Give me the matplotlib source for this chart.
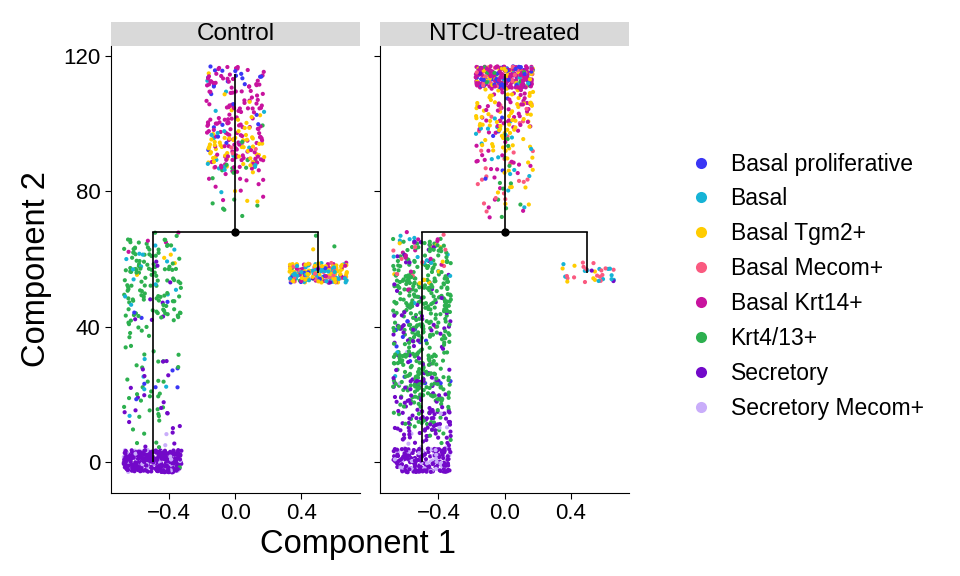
"""Pseudotime trajectory of basal / secretory cells, Control vs NTCU-treated"""
import matplotlib
matplotlib.use('Agg')
import matplotlib.pyplot as plt
from matplotlib.lines import Line2D
from matplotlib.patches import Rectangle
import numpy as np

plt.rcParams['font.family'] = ['Liberation Sans', 'DejaVu Sans']

# cell types and colours
cell_types = ['Basal proliferative', 'Basal', 'Basal Tgm2+', 'Basal Mecom+',
              'Basal Krt14+', 'Krt4/13+', 'Secretory', 'Secretory Mecom+']
colours = ['#3A36F5', '#16B3D6', '#FFCC00', '#FA5A80',
           '#C8139E', '#2DB04F', '#7209C9', '#C9ADFA']

panels = ['Control', 'NTCU-treated']

# tree branches: component 1 position, top and bottom of each branch (component 2)
branch_names = ['top', 'left', 'right']
branch_x = [0.0, -0.5, 0.5]
branch_top = [114.8, 68.0, 68.0]
branch_bottom = [68.0, 0.0, 56.0]
root_x, root_y = 0.0, 68.0

# cells: (branch, cell type, count, y from, y to)
control_cells = [
    ('top', 'Basal proliferative', 14, 110, 117), ('top', 'Basal proliferative', 6, 97, 110),
    ('top', 'Basal proliferative', 3, 88, 97),
    ('top', 'Basal', 4, 103, 117), ('top', 'Basal', 12, 87, 99), ('top', 'Basal', 3, 76, 87),
    ('top', 'Basal Tgm2+', 4, 103, 117), ('top', 'Basal Tgm2+', 6, 98, 103),
    ('top', 'Basal Tgm2+', 45, 87, 98), ('top', 'Basal Tgm2+', 4, 76, 87),
    ('top', 'Basal Mecom+', 5, 85, 100),
    ('top', 'Basal Krt14+', 40, 108, 117), ('top', 'Basal Krt14+', 55, 97, 108),
    ('top', 'Basal Krt14+', 50, 87, 97), ('top', 'Basal Krt14+', 14, 77, 87),
    ('top', 'Krt4/13+', 4, 88, 100), ('top', 'Krt4/13+', 12, 72, 88),
    ('left', 'Krt4/13+', 115, 42, 68), ('left', 'Krt4/13+', 45, 4, 42),
    ('left', 'Krt4/13+', 4, -3, 3),
    ('left', 'Basal', 14, 45, 67), ('left', 'Basal', 5, 10, 40),
    ('left', 'Basal Tgm2+', 4, 55, 66),
    ('left', 'Basal Krt14+', 4, 62, 69),
    ('left', 'Basal proliferative', 3, 40, 50), ('left', 'Basal proliferative', 6, 5, 30),
    ('left', 'Secretory', 8, 40, 65), ('left', 'Secretory', 20, 4, 30),
    ('left', 'Secretory', 280, -3, 3.6),
    ('left', 'Secretory Mecom+', 40, -3, 3.6), ('left', 'Secretory Mecom+', 2, 4, 10),
    ('right', 'Basal Tgm2+', 70, 53, 59), ('right', 'Basal Tgm2+', 1, 61, 63),
    ('right', 'Basal', 55, 53, 59),
    ('right', 'Basal Krt14+', 25, 53, 59),
    ('right', 'Basal Mecom+', 25, 53, 59),
    ('right', 'Basal proliferative', 10, 53, 59),
    ('right', 'Secretory', 5, 53, 59),
    ('right', 'Krt4/13+', 2, 53, 59), ('right', 'Krt4/13+', 2, 63, 67),
]

ntcu_cells = [
    ('top', 'Basal Krt14+', 150, 110.5, 117), ('top', 'Basal Krt14+', 45, 97, 110.5),
    ('top', 'Basal Krt14+', 15, 85, 97), ('top', 'Basal Krt14+', 6, 72, 85),
    ('top', 'Basal proliferative', 50, 110.5, 117), ('top', 'Basal proliferative', 4, 95, 110),
    ('top', 'Basal proliferative', 2, 78, 90),
    ('top', 'Basal Tgm2+', 40, 110.5, 117), ('top', 'Basal Tgm2+', 55, 97, 110.5),
    ('top', 'Basal Tgm2+', 20, 85, 97), ('top', 'Basal Tgm2+', 6, 72, 85),
    ('top', 'Basal Mecom+', 30, 110.5, 117), ('top', 'Basal Mecom+', 8, 97, 110),
    ('top', 'Basal Mecom+', 12, 82, 97), ('top', 'Basal Mecom+', 6, 72, 85),
    ('top', 'Basal', 15, 110.5, 117), ('top', 'Basal', 5, 97, 110),
    ('top', 'Basal', 10, 84, 97), ('top', 'Basal', 2, 72, 84),
    ('top', 'Krt4/13+', 10, 110.5, 117), ('top', 'Krt4/13+', 4, 85, 97),
    ('top', 'Krt4/13+', 7, 68, 85),
    ('top', 'Secretory', 3, 110.5, 117),
    ('left', 'Krt4/13+', 60, 55, 66), ('left', 'Krt4/13+', 180, 35, 55),
    ('left', 'Krt4/13+', 130, 18, 35), ('left', 'Krt4/13+', 30, 5, 18),
    ('left', 'Secretory', 20, 45, 66), ('left', 'Secretory', 40, 25, 45),
    ('left', 'Secretory', 100, 5, 25), ('left', 'Secretory', 170, -3, 4),
    ('left', 'Secretory Mecom+', 45, -3, 4), ('left', 'Secretory Mecom+', 8, 4, 15),
    ('left', 'Secretory Mecom+', 4, 20, 45),
    ('left', 'Basal proliferative', 15, 20, 45),
    ('left', 'Basal', 14, 55, 67), ('left', 'Basal', 3, 20, 50),
    ('left', 'Basal Krt14+', 12, 55, 68), ('left', 'Basal Krt14+', 4, 40, 55),
    ('left', 'Basal Mecom+', 10, 55, 69),
    ('left', 'Basal Tgm2+', 10, 52, 67),
    ('right', 'Basal Mecom+', 15, 53, 59),
    ('right', 'Basal', 12, 53, 59),
    ('right', 'Basal Tgm2+', 6, 53, 59),
    ('right', 'Secretory', 2, 53, 59),
]

panel_cells = [control_cells, ntcu_cells]

fig = plt.figure(figsize=(9.6, 5.76), dpi=100)
ax_w, ax_h = 0.2597, 0.776
lefts = [0.1153, 0.3958]
bottom = 0.1446

rng = np.random.default_rng(11)   # jitter, like geom_jitter
jit = 0.175

axs = []
for p, name in enumerate(panels):
    ax = fig.add_axes([lefts[p], bottom, ax_w, ax_h])
    axs.append(ax)
    xs, ys, cs = [], [], []
    for br, ct, n, ylo, yhi in panel_cells[p]:
        bx = branch_x[branch_names.index(br)]
        xs.append(bx + rng.uniform(-jit, jit, n))
        ys.append(rng.uniform(ylo, yhi, n))
        cs += [colours[cell_types.index(ct)]] * n
    xs = np.concatenate(xs)
    ys = np.concatenate(ys)
    cs = np.array(cs)
    order = rng.permutation(len(xs))
    ax.scatter(xs[order], ys[order], c=cs[order], s=9, linewidths=0, zorder=2)

    # tree
    for bx, bt, bb in zip(branch_x, branch_top, branch_bottom):
        ax.plot([bx, bx], [bb, bt], color='black', lw=1.2, zorder=3, solid_capstyle='butt')
    ax.plot([min(branch_x), max(branch_x)], [root_y, root_y], color='black', lw=1.2, zorder=3)
    ax.plot([root_x], [root_y], 'o', color='black', ms=5, zorder=4)

    ax.set_xlim(-0.754, 0.754)
    ax.set_ylim(-9, 123)
    ax.set_xticks([-0.4, 0.0, 0.4])
    ax.set_yticks([0, 40, 80, 120])
    ax.set_xticklabels(['\u22120.4', '0.0', '0.4'])
    for s in ['top', 'right']:
        ax.spines[s].set_visible(False)
    for s in ['left', 'bottom']:
        ax.spines[s].set_linewidth(0.8)
    ax.tick_params(labelsize=16, length=4.5, width=0.8, pad=3, colors='black')
    if p == 1:
        ax.tick_params(axis='y', labelleft=False)

    # facet strip
    strip_h = 24 / 447
    ax.add_patch(Rectangle((0, 1), 1, strip_h, transform=ax.transAxes,
                           facecolor='#D9D9D9', edgecolor='none', clip_on=False))
    ax.text(0.5, 1 + strip_h / 2, name, transform=ax.transAxes, ha='center',
            va='center', fontsize=17.5)

fig.text(358 / 960, 1 - 544 / 576, 'Component 1', ha='center', va='center', fontsize=23.5)
fig.text(37 / 960, 1 - 269 / 576, 'Component 2', ha='center', va='center',
         rotation=90, fontsize=23.5)

handles = [Line2D([], [], ls='none', marker='o', ms=8, color=c, markeredgewidth=0)
           for c in colours]
fig.legend(handles, cell_types, loc='center left', bbox_to_anchor=(690 / 960, 0.503),
           frameon=False, fontsize=16.5, handlelength=1.0, handletextpad=0.77,
           labelspacing=0.52, borderpad=0, borderaxespad=0)

plt.savefig('out.png', dpi=100)
